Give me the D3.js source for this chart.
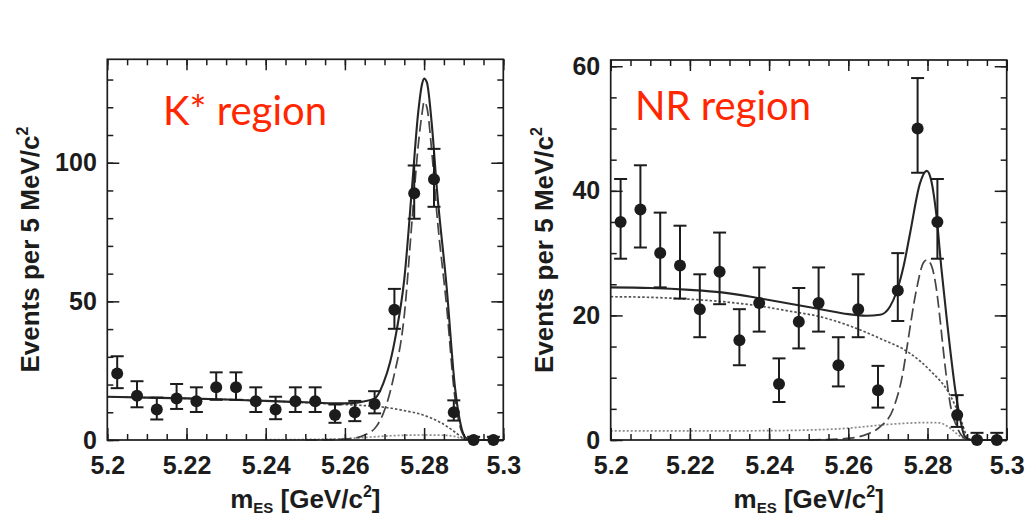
<!DOCTYPE html>
<html>
<head>
<meta charset="utf-8">
<script src="https://cdn.jsdelivr.net/npm/d3@7"></script>
<style>
  body { margin: 0; background: #fff; }
  svg { display: block; }
</style>
</head>
<body>
<svg id="chart" width="1026" height="518"></svg>
<script>
// bin centres of the mES histogram (5 MeV bins)
const binCenters = [5.2025, 5.2075, 5.2125, 5.2175, 5.2225, 5.2275, 5.2325, 5.2375, 5.2425, 5.2475,
                    5.2525, 5.2575, 5.2625, 5.2675, 5.2725, 5.2775, 5.2825, 5.2875, 5.2925, 5.2975]

// K* region: counts and error bars
const kstarCounts = [24, 16, 11, 15, 14, 19, 19, 14, 11, 14, 14, 9, 10, 13, 47, 89, 94, 10, 0, 0]
const kstarErrHi  = [6.2, 5.2, 4.3, 5.2, 5.0, 5.4, 5.4, 5.0, 4.6, 5.0, 5.0, 3.8, 4.1, 4.6, 7.5, 10, 11, 4.3, 1.15, 1.15]
const kstarErrLo  = [5.3, 4.2, 3.6, 3.8, 3.9, 4.5, 4.5, 3.9, 3.5, 3.9, 3.9, 2.8, 3.2, 3.4, 6.9, 9.2, 9.9, 3.0, 0, 0]

// NR region: counts and error bars
const nrCounts = [35, 37, 30, 28, 21, 27, 16, 22, 9, 19, 22, 12, 21, 8, 24, 50, 35, 4, 0, 0]
const nrErrHi  = [6.9, 7.1, 6.5, 6.4, 5.6, 6.3, 5.0, 5.7, 4.1, 5.4, 5.7, 4.5, 5.6, 3.9, 6.0, 8.1, 6.9, 3.2, 1.15, 1.15]
const nrErrLo  = [5.9, 6.1, 5.5, 5.3, 4.5, 5.2, 4.0, 4.6, 2.9, 4.3, 4.6, 3.4, 4.5, 2.8, 4.9, 7.1, 5.9, 1.9, 0, 0]

// fit curves: [mES, events]
const kstarTotal = [[5.200, 15.6], [5.210, 15.3], [5.220, 15.0], [5.230, 14.6], [5.240, 14.1], [5.250, 13.6],
  [5.258, 13.2], [5.262, 13.3], [5.265, 14.0], [5.2675, 14.9], [5.2697, 20.4], [5.2714, 28], [5.273, 39],
  [5.275, 58], [5.277, 92], [5.2785, 118], [5.2795, 128.5], [5.280, 130.4], [5.2807, 129], [5.282, 113],
  [5.2832, 91], [5.2857, 55], [5.2878, 19], [5.2895, 4], [5.2908, 0.5], [5.292, 0], [5.300, 0]]
const kstarSignal = [[5.250, 0], [5.258, 0.2], [5.262, 0.6], [5.265, 1.8], [5.268, 5], [5.2697, 9.6],
  [5.2722, 22], [5.275, 45], [5.277, 80], [5.2785, 106], [5.2795, 118], [5.280, 122], [5.2807, 120],
  [5.282, 103], [5.2832, 82], [5.2857, 48], [5.2878, 15], [5.2895, 3], [5.291, 0.3], [5.292, 0]]
const kstarBkg = [[5.200, 15.6], [5.210, 15.3], [5.220, 15.0], [5.230, 14.6], [5.240, 14.1], [5.250, 13.5],
  [5.260, 12.8], [5.265, 12.4], [5.270, 11.8], [5.275, 10.6], [5.280, 8.9], [5.284, 6.4], [5.287, 3.7],
  [5.289, 1.5], [5.290, 0.4], [5.2905, 0]]
const kstarPeaking = [[5.240, 0.1], [5.250, 0.2], [5.260, 0.5], [5.265, 0.9], [5.270, 1.4], [5.275, 1.7],
  [5.280, 1.8], [5.285, 1.7], [5.288, 1.2], [5.2895, 0.5], [5.291, 0]]

const nrTotal = [[5.200, 24.5], [5.210, 24.4], [5.220, 24.1], [5.228, 23.7], [5.238, 22.7], [5.246, 21.8],
  [5.253, 21.0], [5.260, 20.2], [5.2645, 19.95], [5.268, 20.1], [5.2705, 21.4], [5.2722, 23.8], [5.274, 28],
  [5.2756, 33.2], [5.2781, 41.2], [5.2798, 43.2], [5.281, 41.5], [5.2823, 35.8], [5.2835, 27.6],
  [5.2848, 19.8], [5.2874, 6.4], [5.2895, 0.5], [5.291, 0], [5.300, 0]]
const nrSignal = [[5.250, 0], [5.2605, 0.3], [5.265, 1.0], [5.268, 2.1], [5.2714, 5.1], [5.2739, 11.2],
  [5.2747, 14.4], [5.2772, 24.1], [5.279, 28.5], [5.2798, 28.9], [5.281, 28.0], [5.2823, 24], [5.2832, 19.2],
  [5.284, 14.4], [5.2857, 5.9], [5.2878, 1.6], [5.290, 0]]
const nrBkg = [[5.200, 23.0], [5.210, 22.9], [5.220, 22.6], [5.230, 22.1], [5.2377, 21.5], [5.245, 20.7],
  [5.2528, 19.8], [5.260, 18.4], [5.268, 16.3], [5.2756, 13.9], [5.2806, 11.2], [5.2857, 7.2],
  [5.2882, 3.7], [5.2898, 0.8], [5.2908, 0]]
const nrPeaking = [[5.200, 1.45], [5.220, 1.45], [5.240, 1.5], [5.250, 1.6], [5.260, 1.9], [5.265, 2.2],
  [5.270, 2.5], [5.275, 2.7], [5.280, 2.8], [5.283, 2.75], [5.285, 2.2], [5.2865, 1.5], [5.288, 0.7],
  [5.289, 0.3], [5.2905, 0]]

// tick labels
const xMajorTicks = [5.2, 5.22, 5.24, 5.26, 5.28, 5.3]
const kstarYTicks = [0, 50, 100]
const nrYTicks = [0, 20, 40, 60]

const svg = d3.select("#chart")
const font = "'Liberation Sans', Arial, Helvetica, sans-serif"
const ink = "#1c1c1c"

const drawPanel = function(p) {
  var x = d3.scaleLinear().domain([5.2, 5.3]).range([p.left, p.right])
  var y = d3.scaleLinear().domain([0, p.ymax]).range([p.bottom, p.top])
  var g = svg.append("g")

  var line = d3.line()
    .x(d => x(d[0]))
    .y(d => y(d[1]))
    .curve(d3.curveMonotoneX)

  // fit components
  g.append("path").datum(p.peaking).attr("d", line)
    .attr("fill", "none").attr("stroke", "#8a8a8a").attr("stroke-width", 1.7).attr("stroke-dasharray", "2,2")
  g.append("path").datum(p.bkg).attr("d", line)
    .attr("fill", "none").attr("stroke", "#555").attr("stroke-width", 1.7).attr("stroke-dasharray", "2.5,2")
  g.append("path").datum(p.signal).attr("d", line)
    .attr("fill", "none").attr("stroke", "#444").attr("stroke-width", 1.7).attr("stroke-dasharray", "12,5")
  g.append("path").datum(p.total).attr("d", line)
    .attr("fill", "none").attr("stroke", "#262626").attr("stroke-width", 2.1)

  // axes: ticks inward on all four sides
  var minorX = x.ticks(20)
  var minorY = d3.range(0, p.ymax, p.minorStep)
  var axes = [
    [d3.axisBottom(x).tickValues(minorX).tickSize(-6).tickFormat(""), "translate(0," + p.bottom + ")"],
    [d3.axisTop(x).tickValues(minorX).tickSize(-6).tickFormat(""), "translate(0," + p.top + ")"],
    [d3.axisTop(x).tickValues(xMajorTicks).tickSize(-11).tickFormat(""), "translate(0," + p.top + ")"],
    [d3.axisLeft(y).tickValues(minorY).tickSize(-6).tickFormat(""), "translate(" + p.left + ",0)"],
    [d3.axisRight(y).tickValues(minorY).tickSize(-6).tickFormat(""), "translate(" + p.right + ",0)"],
    [d3.axisRight(y).tickValues(p.yTicks).tickSize(-12).tickFormat(""), "translate(" + p.right + ",0)"]
  ]
  axes.forEach(a => g.append("g").attr("transform", a[1]).call(a[0]))

  g.append("g")
    .attr("class", "xAxis")
    .attr("transform", "translate(0," + p.bottom + ")")
    .call(d3.axisBottom(x).tickValues(xMajorTicks).tickSize(-12).tickPadding(16.5).tickFormat(d3.format("")))

  g.append("g")
    .attr("class", "yAxis")
    .attr("transform", "translate(" + p.left + ",0)")
    .call(d3.axisLeft(y).tickValues(p.yTicks).tickSize(-12).tickPadding(10.5))

  g.selectAll(".domain").remove()
  g.selectAll(".tick line").attr("stroke", ink).attr("stroke-width", 1.5)
  g.selectAll(".tick text")
    .attr("font-size", "25px")
    .attr("font-weight", "bold")
    .attr("font-family", font)
    .attr("fill", ink)

  // frame
  g.append("rect")
    .attr("x", p.left).attr("y", p.top)
    .attr("width", p.right - p.left).attr("height", p.bottom - p.top)
    .attr("fill", "none").attr("stroke", ink).attr("stroke-width", 1.7)

  // data with error bars
  var pts = g.append("g").selectAll("g")
    .data(binCenters.map((c, i) => ({c: c, n: p.counts[i], hi: p.errHi[i], lo: p.errLo[i]})))
    .enter().append("g")
    .attr("stroke", ink).attr("stroke-width", 2)

  pts.append("line")
    .attr("x1", d => x(d.c)).attr("x2", d => x(d.c))
    .attr("y1", d => y(d.n + d.hi)).attr("y2", d => y(d.n - d.lo))
  pts.append("line")
    .attr("x1", d => x(d.c) - 6.5).attr("x2", d => x(d.c) + 6.5)
    .attr("y1", d => y(d.n + d.hi)).attr("y2", d => y(d.n + d.hi))
  pts.filter(d => d.lo > 0).append("line")
    .attr("x1", d => x(d.c) - 6.5).attr("x2", d => x(d.c) + 6.5)
    .attr("y1", d => y(d.n - d.lo)).attr("y2", d => y(d.n - d.lo))
  pts.append("circle")
    .attr("cx", d => x(d.c)).attr("cy", d => y(d.n))
    .attr("r", 6).attr("fill", ink).attr("stroke", "none")

  // y title
  var yt = svg.append("text")
    .attr("transform", "translate(" + p.ytitleX + "," + ((p.top + p.bottom) / 2) + ") rotate(-90)")
    .attr("text-anchor", "middle")
    .attr("font-family", font).attr("font-weight", "bold").attr("font-size", "26px")
    .attr("fill", ink)
  yt.append("tspan").text("Events per 5 MeV/c")
  yt.append("tspan").text("2").attr("font-size", "16px").attr("dy", -11)

  // x title
  var xt = svg.append("text")
    .attr("x", (p.left + p.right) / 2).attr("y", 508)
    .attr("text-anchor", "middle")
    .attr("font-family", font).attr("font-weight", "bold").attr("font-size", "26px")
    .attr("fill", ink)
  xt.append("tspan").text("m")
  xt.append("tspan").text("ES").attr("font-size", "15px").attr("dy", 5)
  xt.append("tspan").text(p.xgap + "[GeV/c").attr("dy", -5)
  xt.append("tspan").text("2").attr("font-size", "16px").attr("dy", -11)
  xt.append("tspan").text("]").attr("dy", 11)

  // region label
  svg.append("text")
    .attr("x", p.labelX).attr("y", p.labelY)
    .attr("font-family", "Lato, 'Open Sans', sans-serif")
    .attr("font-size", "40px")
    .attr("fill", "#ff2600")
    .text(p.label)
}

drawPanel({
  left: 107.3, right: 503.3, top: 59.3, bottom: 440, ymax: 137.3, minorStep: 10,
  yTicks: kstarYTicks, counts: kstarCounts, errHi: kstarErrHi, errLo: kstarErrLo,
  total: kstarTotal, signal: kstarSignal, bkg: kstarBkg, peaking: kstarPeaking,
  ytitleX: 39, xgap: " ", label: "K* region", labelX: 163, labelY: 125
})

drawPanel({
  left: 610.7, right: 1006.7, top: 60, bottom: 440, ymax: 61, minorStep: 5,
  yTicks: nrYTicks, counts: nrCounts, errHi: nrErrHi, errLo: nrErrLo,
  total: nrTotal, signal: nrSignal, bkg: nrBkg, peaking: nrPeaking,
  ytitleX: 553, xgap: "  ", label: "NR region", labelX: 635, labelY: 120
})
</script>
</body>
</html>
